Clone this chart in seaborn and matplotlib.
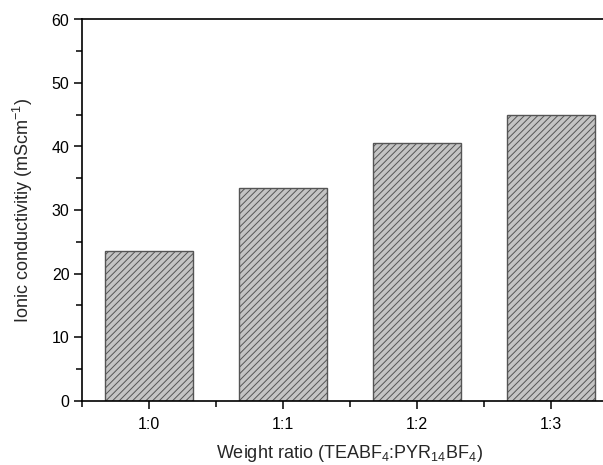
import matplotlib
matplotlib.use("Agg")
import matplotlib.pyplot as plt
import seaborn as sns
from matplotlib.ticker import MultipleLocator

sns.set_theme(style="ticks")
plt.rcParams['font.family'] = ['Liberation Sans', 'DejaVu Sans']
plt.rcParams['mathtext.fontset'] = 'custom'
plt.rcParams['mathtext.rm'] = 'Liberation Sans'
plt.rcParams['mathtext.it'] = 'Liberation Sans:italic'
plt.rcParams['hatch.color'] = '#505050'
plt.rcParams['hatch.linewidth'] = 0.7

# data
ratios = ['1:0', '1:1', '1:2', '1:3']
conductivity = [23.5, 33.5, 40.5, 45.0]

fig = plt.figure(figsize=(6.03, 4.65), dpi=100)
# right spine is cut off in the original figure
ax = fig.add_axes([82 / 603, 1 - 400.5 / 465, (618 - 82) / 603, (400.5 - 19.5) / 465])

sns.barplot(x=ratios, y=conductivity, ax=ax, color='#c4c4c4', saturation=1,
            width=0.66, edgecolor='#555555', linewidth=1.0, hatch='/////')

ax.set_xlim(-0.5, 3.5)
ax.set_ylim(0, 60)
ax.yaxis.set_major_locator(MultipleLocator(10))
ax.yaxis.set_minor_locator(MultipleLocator(5))
ax.xaxis.set_minor_locator(MultipleLocator(1, offset=0.5))

for s in ax.spines.values():
    s.set_linewidth(1.2)
    s.set_color('black')

ax.tick_params(axis='both', which='major', direction='out', length=6, width=1.1,
               labelsize=11.5, color='black', labelcolor='black', pad=3)
ax.tick_params(axis='both', which='minor', direction='out', length=4, width=1.1, color='black')
ax.tick_params(axis='x', which='major', pad=6)

ax.set_xlabel(r'Weight ratio (TEABF$_4$:PYR$_{14}$BF$_4$)', fontsize=13, labelpad=8)
ax.set_ylabel(r'Ionic conductivitiy (mScm$^{-1}$)', fontsize=13, labelpad=12)

fig.savefig('out.png', dpi=100)
